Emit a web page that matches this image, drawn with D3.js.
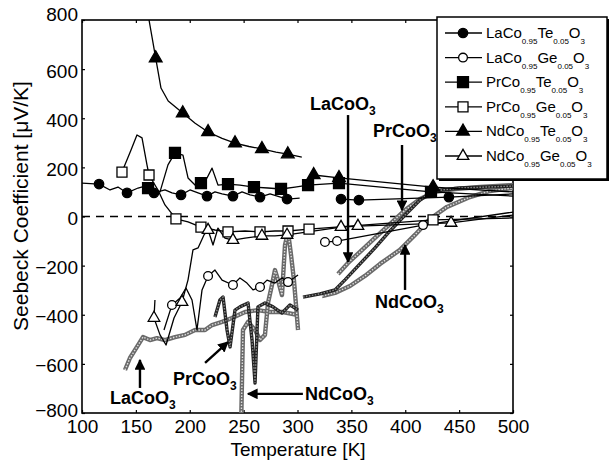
<!DOCTYPE html>
<html>
<head>
<meta charset="utf-8">
<script src="https://cdn.jsdelivr.net/npm/d3@7"></script>
<style>
  body { margin: 0; background: #fff; }
  svg { display: block; font-family: "Liberation Sans", Arial, sans-serif; }
</style>
</head>
<body>
<svg id="chart" width="611" height="461"></svg>
<script>
const tempTicks = [100, 150, 200, 250, 300, 350, 400, 450, 500];
const seebeckTicks = [-800, -600, -400, -200, 0, 200, 400, 600, 800];

// doped samples: [T (K), S (uV/K)]
const laTeLow = [[100,136],[115.8,132],[126,108],[133.4,120],[141.8,96],[152,116],[158.5,124],[166.8,96],[177,108],[183.5,96],[191.9,88],[200.2,108],[207.7,96],[216,83],[223.4,100],[230,92],[240.1,83],[248.5,100],[256,88],[265.2,79],[274.5,92],[290.3,71],[302,75]];
const laTeHigh = [[340.4,71],[357,67],[440.5,79],[500,92]];
const laTeMarks = [[115.8,132],[141.8,96],[166.8,96],[191.9,88],[216,83],[240.1,83],[265.2,79],[290.3,71],[340.4,71],[357,67],[440.5,79]];

const laGeLow = [[176.1,-462],[183.5,-360],[191,-332],[196.5,-291],[202.1,-340],[206.7,-462],[211.4,-299],[217,-242],[223.4,-218],[230,-259],[240.1,-279],[246.6,-250],[253.1,-271],[258.7,-299],[265.2,-287],[271.7,-259],[279.1,-271],[285.6,-250],[291.2,-267],[300.5,-238]];
const laGeHigh = [[325.5,-104],[336.7,-100],[416.5,-35],[500,18]];
const laGeMarks = [[183.5,-360],[217,-242],[240.1,-279],[265.2,-287],[291.2,-267],[325.5,-104],[336.7,-100],[416.5,-35]];

const prTeLine = [[161.3,116],[172.4,100],[179.8,210],[186.3,259],[193.7,250],[198.4,157],[204.9,128],[210.4,136],[216,157],[220.7,197],[226.2,128],[235.5,132],[246.6,128],[259.6,120],[272.6,116],[284.7,112],[297.7,120],[309.8,128],[338.5,136],[423.9,100],[500,83]];
const prTeMarks = [[161.3,116],[186.3,259],[210.4,136],[235.5,132],[259.6,120],[284.7,112],[309.8,128],[338.5,136],[423.9,100]];

const prGeLine = [[137.1,181],[145.5,271],[151,332],[155.7,320],[160.3,210],[162.2,169],[170.5,108],[177,47],[187.2,-10],[198.4,-22],[210.4,-43],[223.4,-55],[235.5,-63],[251.3,-59],[265.2,-63],[279.1,-59],[291.2,-59],[310.7,-51],[425.8,-14],[500,-6]];
const prGeMarks = [[137.1,181],[162.2,169],[187.2,-10],[210.4,-43],[235.5,-63],[265.2,-63],[291.2,-59],[310.7,-51],[425.8,-14]];

const ndTeLow = [[160,850],[162.2,800],[168.4,645],[173.3,523],[180,470],[193.5,421],[205,380],[217,344],[230,318],[242,299],[255,285],[267,275],[280,262],[291,254],[304,242]];
const ndTeHigh = [[315,169],[338.5,157],[425.8,120],[500,100]];
const ndTeMarks = [[168.4,645],[193.5,421],[217,344],[242,299],[267,275],[291,254],[315,169],[338.5,157],[425.8,120]];

const ndGeLine = [[167.7,-340],[166.8,-413],[172.4,-482],[178,-523],[185.4,-413],[192.8,-348],[198.4,-258],[203,-136],[207.7,-128],[213.2,-75],[217,-55],[221.6,-116],[226.2,-47],[232.7,-88],[240.1,-96],[251.3,-88],[267,-79],[279.1,-79],[290.3,-75],[340.4,-43],[356.1,-39],[442.5,-26],[500,6]];
const ndGeMarks = [[166.8,-413],[192.8,-348],[217,-55],[240.1,-96],[267,-79],[290.3,-75],[340.4,-43],[356.1,-39],[442.5,-26]];

// undoped LaCoO3 / PrCoO3 / NdCoO3 (hatched grey curves)
const laPureLow = [[139.9,-625],[144.5,-576],[151,-531],[156.6,-491],[163.1,-503],[169.6,-495],[177,-503],[186.3,-491],[195.6,-482],[204.9,-462],[214.2,-462],[220.7,-442],[230,-429],[239.2,-413],[251.3,-389],[263.3,-381],[274.5,-389],[286.5,-389],[300.5,-401]];
const laPureHigh = [[337.6,-234],[346.9,-189],[358,-144],[371.9,-87],[385.8,-31],[399.8,26],[413.7,71],[427.6,100],[446.2,112],[469.4,120],[500,128]];
const prPureLow = [[223.4,-409],[228,-340],[230.9,-328],[234.6,-462],[237.4,-531],[242,-381],[246.6,-368],[254.1,-352],[257.8,-503],[260.6,-678],[263.3,-368],[269.8,-352],[277.3,-368],[285.6,-393],[293,-360],[300.5,-381]];
const prPureHigh = [[305.1,-328],[320.9,-315],[334.8,-299],[344.1,-258],[358,-193],[371.9,-128],[385.8,-59],[399.8,6],[413.7,67],[425.8,104],[450.8,116],[500,124]];
const ndPureLow = [[247.6,-869],[249.4,-462],[254.1,-429],[260.6,-462],[265.2,-503],[269.8,-482],[272.6,-352],[276.3,-279],[279.1,-218],[281.9,-259],[285.6,-320],[288.4,-116],[291.2,-63],[294,-157],[296.7,-259],[300.5,-462]];
const ndPureHigh = [[322.7,-324],[334.8,-311],[348.7,-283],[362.6,-242],[376.6,-193],[395.1,-136],[409,-75],[422.9,-10],[438.7,39],[460,79],[478.7,104],[500,116]];

const legendNames = [
  ["LaCo", "0.95", "Te", "0.05", "O", "3"],
  ["LaCo", "0.95", "Ge", "0.05", "O", "3"],
  ["PrCo", "0.95", "Te", "0.05", "O", "3"],
  ["PrCo", "0.95", "Ge", "0.05", "O", "3"],
  ["NdCo", "0.95", "Te", "0.05", "O", "3"],
  ["NdCo", "0.95", "Ge", "0.05", "O", "3"]
];

const svg = d3.select("#chart");
const x = d3.scaleLinear().domain([100, 500]).range([82, 513]);
const y = d3.scaleLinear().domain([-800, 800]).range([413, 20]);

svg.append("defs").append("clipPath").attr("id", "plot")
  .append("rect").attr("x", 82).attr("y", 20).attr("width", 431).attr("height", 393);
const arrowHead = svg.select("defs").append("marker")
  .attr("id", "head").attr("viewBox", "0 0 10 10").attr("refX", 9).attr("refY", 5)
  .attr("markerWidth", 4.5).attr("markerHeight", 4.5).attr("orient", "auto")
  .attr("markerUnits", "strokeWidth");
arrowHead.append("path").attr("d", "M0,0L10,5L0,10Z").attr("fill", "#000");

const line = d3.line().x(d => x(d[0])).y(d => y(d[1]));

// axes
const xAxis = svg.append("g").attr("transform", "translate(0,413)")
  .call(d3.axisBottom(x).tickValues(tempTicks).tickSize(-3).tickPadding(7));
const yAxis = svg.append("g").attr("transform", "translate(82,0)")
  .call(d3.axisLeft(y).tickValues(seebeckTicks).tickSize(-3).tickPadding(4));
svg.append("g").attr("transform", "translate(0,20)")
  .call(d3.axisTop(x).tickValues(tempTicks).tickSize(-3).tickFormat(""));
svg.append("g").attr("transform", "translate(513,0)")
  .call(d3.axisRight(y).tickValues(seebeckTicks).tickSize(-3).tickFormat(""));
svg.selectAll(".domain").remove();
svg.selectAll(".tick line").attr("stroke", "#000").attr("stroke-width", 1.2);
xAxis.selectAll("text").attr("font-size", 19).attr("fill", "#000");
yAxis.selectAll("text").attr("font-size", 19).attr("fill", "#000")
  .attr("dy", d => d === 800 ? "0.05em" : d === -800 ? "0.2em" : "0.42em");
svg.selectAll(".tick text").attr("font-family", "'Liberation Sans', Arial, sans-serif");

svg.append("rect").attr("x", 82).attr("y", 20).attr("width", 431).attr("height", 393)
  .attr("fill", "none").attr("stroke", "#000").attr("stroke-width", 1.6);

svg.append("text").attr("x", 298).attr("y", 456).attr("text-anchor", "middle")
  .attr("font-size", 19).text("Temperature [K]");
svg.append("text").attr("transform", "translate(28,206) rotate(-90)")
  .attr("text-anchor", "middle").attr("font-size", 21).text("Seebeck Coefficient [\u03bcV/K]");

// zero line
svg.append("line").attr("x1", x(100)).attr("x2", x(500)).attr("y1", y(0)).attr("y2", y(0))
  .attr("stroke", "#000").attr("stroke-width", 1.5).attr("stroke-dasharray", "8,6");

const plot = svg.append("g").attr("clip-path", "url(#plot)");

function hatched(data, dark) {
  plot.append("path").attr("d", line(data)).attr("fill", "none")
    .attr("stroke", dark ? "#222" : "#6a6a6a").attr("stroke-width", dark ? 3.4 : 4.4)
    .attr("stroke-linejoin", "round");
  plot.append("path").attr("d", line(data)).attr("fill", "none")
    .attr("stroke", dark ? "#8a8a8a" : "#dedede").attr("stroke-width", 1.4)
    .attr("stroke-dasharray", "1.5,1.5");
}
hatched(laPureLow, false);
hatched(laPureHigh, false);
hatched(ndPureLow, false);
hatched(ndPureHigh, false);
hatched(prPureLow, true);
hatched(prPureHigh, true);

const seriesLines = [laTeLow, laTeHigh, laGeLow, laGeHigh, prTeLine, prGeLine, ndTeLow, ndTeHigh, ndGeLine];
seriesLines.forEach(s => {
  plot.append("path").attr("d", line(s)).attr("fill", "none")
    .attr("stroke", "#000").attr("stroke-width", 1.3).attr("stroke-linejoin", "round");
});

const symbols = [
  { marks: laTeMarks, type: d3.symbolCircle, size: 70, fill: "#000" },
  { marks: laGeMarks, type: d3.symbolCircle, size: 60, fill: "#fff" },
  { marks: prTeMarks, type: d3.symbolSquare, size: 120, fill: "#000" },
  { marks: prGeMarks, type: d3.symbolSquare, size: 100, fill: "#fff" },
  { marks: ndTeMarks, type: d3.symbolTriangle, size: 70, fill: "#000" },
  { marks: ndGeMarks, type: d3.symbolTriangle, size: 58, fill: "#fff" }
];
symbols.forEach(s => {
  plot.append("g").selectAll("path").data(s.marks).join("path")
    .attr("transform", d => `translate(${x(d[0])},${y(d[1])})`)
    .attr("d", d3.symbol(s.type, s.size))
    .attr("fill", s.fill).attr("stroke", "#000").attr("stroke-width", 1.3);
});

// annotations for the undoped samples
const labels = [
  { t: 311.6, s: 434, name: "LaCo" },
  { t: 370, s: 324, name: "PrCo" },
  { t: 372, s: -372, name: "NdCo" },
  { t: 126, s: -763, name: "LaCo" },
  { t: 184.5, s: -686, name: "PrCo" },
  { t: 307, s: -747, name: "NdCo" }
];
const arrows = [
  [346.9, 413, 346.9, -185],
  [397, 291, 397, 26],
  [399.8, -299, 399.8, -116],
  [153.8, -698, 153.8, -584],
  [214.2, -596, 235.5, -511],
  [305, -722, 254, -722]
];
labels.forEach(l => {
  const t = svg.append("text").attr("x", x(l.t)).attr("y", y(l.s))
    .attr("font-size", 18).attr("font-weight", "bold");
  t.append("tspan").text(l.name + "O");
  t.append("tspan").attr("font-size", 12).attr("dy", 5).text("3");
});
arrows.forEach(a => {
  svg.append("line").attr("x1", x(a[0])).attr("y1", y(a[1]))
    .attr("x2", x(a[2])).attr("y2", y(a[3]))
    .attr("stroke", "#000").attr("stroke-width", 2.4).attr("marker-end", "url(#head)");
});

// legend
const lg = svg.append("g");
lg.append("rect").attr("x", 439).attr("y", 19).attr("width", 170).attr("height", 162).attr("fill", "#000");
lg.append("rect").attr("x", 437).attr("y", 17).attr("width", 170).attr("height", 162)
  .attr("fill", "#fff").attr("stroke", "#000").attr("stroke-width", 1.5);
legendNames.forEach((parts, i) => {
  const ry = 33 + i * 24.6;
  lg.append("line").attr("x1", 445).attr("x2", 482).attr("y1", ry).attr("y2", ry)
    .attr("stroke", "#000").attr("stroke-width", 1.3);
  lg.append("path").attr("transform", `translate(463,${ry})`)
    .attr("d", d3.symbol(symbols[i].type, symbols[i].size))
    .attr("fill", symbols[i].fill).attr("stroke", "#000").attr("stroke-width", 1.3);
  const t = lg.append("text").attr("x", 486).attr("y", ry + 5).attr("font-size", 15);
  parts.forEach((p, j) => {
    const sub = j % 2 === 1;
    t.append("tspan").attr("font-size", sub ? 8 : 15)
      .attr("dy", j === 0 ? 0 : (sub ? 6 : -6)).text(p);
  });
});
</script>
</body>
</html>
